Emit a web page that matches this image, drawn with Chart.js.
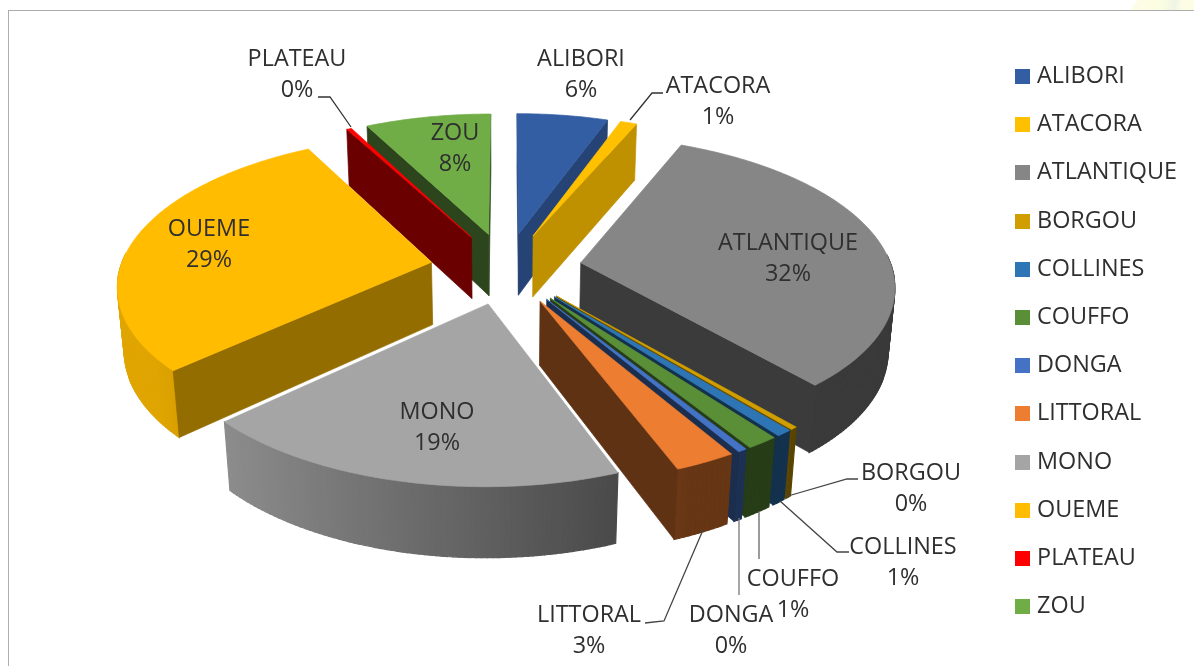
<!DOCTYPE html>
<html><head><meta charset="utf-8">
<style>
html,body{margin:0;padding:0;background:#fff;width:1194px;height:666px;overflow:hidden}
#wrap{position:relative;width:1194px;height:666px}
#frame{position:absolute;left:8px;top:10px;right:-4px;bottom:-4px;border:2px solid #adadad;border-width:1.5px 0 0 1.5px}
#mark{position:absolute;left:1130px;top:0;width:64px;height:10px;background:linear-gradient(100deg,#fdfde6 0%,#fbfde2 50%,#eef4e6 70%,#fdfde6 80%);clip-path:polygon(12% 0,100% 0,100% 100%,0 100%)}
canvas{position:absolute;left:0;top:0}
</style></head>
<body><div id="wrap"><div id="mark"></div><div id="frame"></div><canvas id="c" width="1194" height="666"></canvas></div>
<script src="https://cdn.jsdelivr.net/npm/chart.js@4/dist/chart.umd.js"></script>
<script>
const categories=["ALIBORI","ATACORA","ATLANTIQUE","BORGOU","COLLINES","COUFFO","DONGA","LITTORAL","MONO","OUEME","PLATEAU","ZOU"];
const values=[5.5,1.0,32.2,0.3,0.7,1.4,0.4,2.7,18.9,29.0,0.3,7.6];
const colors=["#345ea3","#ffc000","#868686","#d09e00","#2e75b6","#5a8f38","#4472c4","#ed7d31","#a5a5a5","#ffbc00","#ff0000","#70ad47"];
const faceShade=[0.72,0.75,0.44,0.45,0.42,0.42,0.4,0.4,0.6,0.58,0.42,0.4];

const labelSpots={ALIBORI:[581,59],ATACORA:[718,86],ATLANTIQUE:[788,243],BORGOU:[911,473],COLLINES:[903,547],COUFFO:[793,579],DONGA:[731,615],LITTORAL:[589,615],MONO:[437,412],OUEME:[209,229],PLATEAU:[297,59],ZOU:[455,133]};
const leaders=[
 {c:"#333",p:[[318,97],[330,97],[351,127]]},
 {c:"#333",p:[[663,93],[652,93],[630,120]]},
 {c:"#444",p:[[858,479],[847,479],[788,496]]},
 {c:"#444",p:[[849,552],[837,552],[780,501]]},
 {c:"#666",p:[[759,559],[759,511]]},
 {c:"#777",p:[[739,595],[739,518]]},
 {c:"#444",p:[[645,623],[664,621],[703,530]]}
];

const FONT='"Open Sans"';
const view={cx:506,cy:268,S:311,D:6.3,e:28*Math.PI/180,depth:0.232};
const explode=76;

function project(u,v,d){
  const ce=Math.cos(view.e),se=Math.sin(view.e);
  const w=view.D-v*ce+d*se, k=view.D/w;
  return [view.cx+view.S*u*k, view.cy+view.S*(v*se+d*ce)*k];
}
function shade(hex,f){
  const n=parseInt(hex.slice(1),16);
  const r=(n>>16)&255,g=(n>>8)&255,b=n&255;
  return `rgb(${Math.round(r*f)},${Math.round(g*f)},${Math.round(b*f)})`;
}
function poly(ctx,pts,fill,lw){
  ctx.beginPath();
  pts.forEach((p,i)=>i?ctx.lineTo(p[0],p[1]):ctx.moveTo(p[0],p[1]));
  ctx.closePath();
  ctx.fillStyle=fill;ctx.strokeStyle=fill;ctx.lineWidth=lw||0.7;
  ctx.fill();ctx.stroke();
}
function area(p){let s=0;for(let i=0;i<p.length;i++){const a=p[i],b=p[(i+1)%p.length];s+=a[0]*b[1]-b[0]*a[1];}return s;}

const tilt3d={
  id:'tilt3d',
  beforeDatasetsDraw(chart){
    const ctx=chart.ctx, meta=chart.getDatasetMeta(0);
    const items=meta.data.map((el,i)=>{
      const a0=el.startAngle,a1=el.endAngle,mid=(a0+a1)/2;
      return {i,a0,a1,mid,o:el.options.offset/view.S,col:el.options.backgroundColor};
    }).sort((p,q)=>Math.sin(p.mid)-Math.sin(q.mid));
    ctx.save();
    for(const s of items){
      const ox=Math.cos(s.mid)*s.o, oy=Math.sin(s.mid)*s.o;
      const pt=(a,d)=>project(ox+Math.cos(a),oy+Math.sin(a),d);
      const ap=d=>project(ox,oy,d);
      const dp=view.depth;
      const f=faceShade[s.i];
      // curved outer wall, drawn in thin strips so its shade follows the rim
      const step=Math.PI/200,n=Math.max(1,Math.ceil((s.a1-s.a0)/step));
      for(let j=0;j<n;j++){
        const b0=s.a0+(s.a1-s.a0)*j/n,b1=s.a0+(s.a1-s.a0)*(j+1)/n;
        if(Math.sin((b0+b1)/2)<-0.05)continue;
        const q=[pt(b0,0),pt(b1,0),pt(b1,dp),pt(b0,dp)];
        const nx=Math.cos((b0+b1)/2);
        const wf=Math.min(0.88,Math.max(0.43,0.58-0.37*nx));
        poly(ctx,q,shade(s.col,wf),1.2);
      }
      // radial cut faces, visible only when facing the camera
      const fs=[ap(0),pt(s.a0,0),pt(s.a0,dp),ap(dp)];
      const fe=[ap(0),ap(dp),pt(s.a1,dp),pt(s.a1,0)];
      if(area(fs)<0)poly(ctx,fs,shade(s.col,f));
      if(area(fe)<0)poly(ctx,fe,shade(s.col,f));
      // top surface
      const top=[ap(0)];
      const m=Math.max(2,Math.ceil((s.a1-s.a0)/step));
      for(let j=0;j<=m;j++)top.push(pt(s.a0+(s.a1-s.a0)*j/m,0));
      poly(ctx,top,s.col);
    }
    // leader lines
    ctx.lineWidth=1.3;
    leaders.forEach(l=>{
      ctx.strokeStyle=l.c;ctx.beginPath();
      l.p.forEach((p,i)=>i?ctx.lineTo(p[0],p[1]):ctx.moveTo(p[0],p[1]));
      ctx.stroke();
    });
    // data labels
    ctx.fillStyle='#2f2f2f';ctx.font='23.4px '+FONT;ctx.textAlign='center';ctx.textBaseline='middle';
    categories.forEach((name,i)=>{
      const [x,y]=labelSpots[name];
      ctx.fillText(name,x,y);
      ctx.fillText(Math.round(values[i])+'%',x,y+31.5);
    });
    ctx.restore();
    return false;
  }
};

function swatch(col){
  const c=document.createElement('canvas');c.width=15;c.height=15;
  const x=c.getContext('2d');x.fillStyle=col;x.fillRect(0,0,15,15);return c;
}

new Chart(document.getElementById('c'),{
  type:'pie',
  data:{labels:categories,datasets:[{data:values,backgroundColor:colors,borderWidth:0,offset:explode}]},
  options:{
    responsive:false,animation:false,
    layout:{padding:{top:17,left:18,right:7}},
    plugins:{
      tooltip:{enabled:false},
      legend:{position:'right',labels:{
        color:'#2f2f2f',font:{family:FONT,size:23.4},padding:24.8,
        usePointStyle:true,pointStyleWidth:6,
        generateLabels(chart){
          return Chart.overrides.pie.plugins.legend.labels.generateLabels(chart).map(l=>({...l,pointStyle:swatch(colors[l.index])}));
        }
      }}
    }
  },
  plugins:[tilt3d]
});
</script></body></html>
